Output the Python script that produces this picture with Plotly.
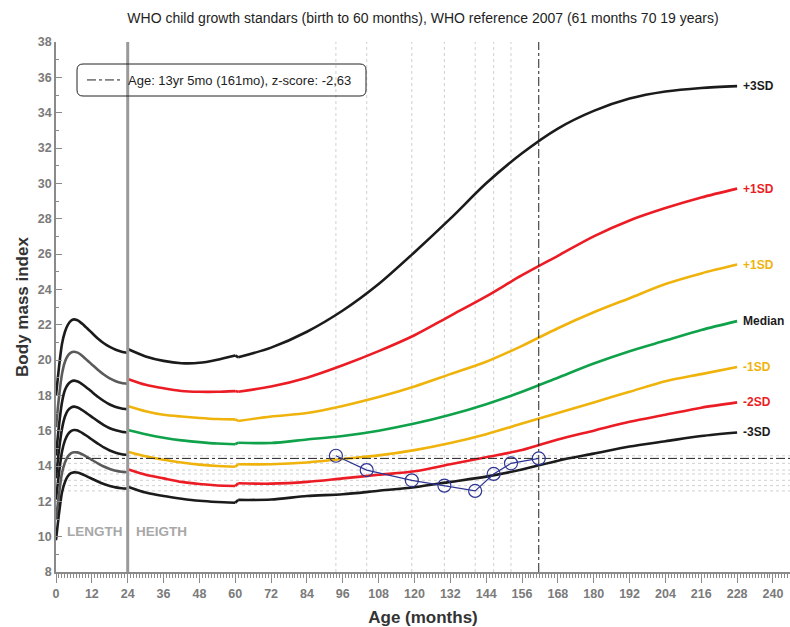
import plotly.graph_objects as go

# ---------------- data ----------------
# WHO child growth standards, 0-24 months (length based)
months_len = [0, 1, 2, 3, 4, 5, 6, 7, 8, 9, 10, 11, 12, 14, 16, 18, 20, 22, 24]
len_p3 = [18.0, 19.6, 20.9, 21.6, 22.0, 22.22, 22.3, 22.26, 22.16, 22.02, 21.86, 21.7, 21.54, 21.22, 20.95, 20.74, 20.58, 20.47, 20.4]
len_p2 = [16.2, 17.9, 19.2, 19.9, 20.25, 20.42, 20.47, 20.43, 20.34, 20.2, 20.05, 19.9, 19.75, 19.45, 19.18, 18.96, 18.8, 18.7, 18.65]
len_p1 = [14.6, 16.3, 17.6, 18.3, 18.62, 18.78, 18.83, 18.8, 18.72, 18.6, 18.47, 18.34, 18.2, 17.92, 17.68, 17.48, 17.34, 17.25, 17.2]
len_md = [13.3, 14.9, 16.1, 16.8, 17.15, 17.31, 17.36, 17.33, 17.25, 17.14, 17.02, 16.9, 16.78, 16.54, 16.32, 16.14, 16.02, 15.94, 15.9]
len_m1 = [12.1, 13.6, 14.8, 15.45, 15.8, 15.97, 16.04, 16.02, 15.95, 15.85, 15.74, 15.62, 15.5, 15.27, 15.05, 14.88, 14.75, 14.67, 14.62]
len_m2 = [11.0, 12.4, 13.6, 14.2, 14.55, 14.72, 14.78, 14.77, 14.72, 14.64, 14.55, 14.45, 14.35, 14.15, 13.97, 13.83, 13.73, 13.67, 13.65]
len_m3 = [9.8, 11.3, 12.5, 13.1, 13.43, 13.59, 13.64, 13.63, 13.59, 13.52, 13.44, 13.36, 13.28, 13.12, 12.98, 12.87, 12.79, 12.74, 12.72]

# WHO child growth standards 24-60 months (height based)
months_ht = [24, 30, 36, 42, 48, 54, 60]
ht_p3 = [20.62, 20.2, 19.95, 19.82, 19.84, 20.02, 20.26]
ht_p2 = [18.93, 18.6, 18.4, 18.25, 18.2, 18.2, 18.24]
ht_p1 = [17.4, 17.1, 16.9, 16.8, 16.72, 16.66, 16.64]
ht_md = [16.04, 15.8, 15.6, 15.45, 15.35, 15.27, 15.23]
ht_m1 = [14.81, 14.55, 14.35, 14.2, 14.08, 14.0, 13.96]
ht_m2 = [13.81, 13.5, 13.3, 13.1, 12.98, 12.9, 12.87]
ht_m3 = [12.83, 12.5, 12.3, 12.15, 12.03, 11.96, 11.92]

# WHO reference 2007, 61-228 months
months_ref = [61, 72, 84, 96, 108, 120, 132, 144, 156, 168, 180, 192, 204, 216, 228]
ref_p3 = [20.15, 20.7, 21.6, 22.8, 24.3, 26.1, 28.0, 30.0, 31.7, 33.1, 34.1, 34.8, 35.2, 35.4, 35.5]
ref_p2 = [18.2, 18.5, 19.0, 19.7, 20.5, 21.4, 22.5, 23.6, 24.8, 25.9, 27.0, 27.9, 28.6, 29.2, 29.7]
ref_p1 = [16.55, 16.8, 17.0, 17.4, 17.9, 18.5, 19.2, 19.9, 20.8, 21.8, 22.7, 23.5, 24.3, 24.9, 25.4]
ref_md = [15.32, 15.3, 15.5, 15.7, 16.0, 16.4, 16.9, 17.5, 18.2, 19.0, 19.8, 20.5, 21.1, 21.7, 22.2]
ref_m1 = [14.1, 14.1, 14.2, 14.4, 14.6, 14.9, 15.3, 15.8, 16.4, 17.0, 17.6, 18.2, 18.8, 19.2, 19.6]
ref_m2 = [13.02, 13.0, 13.1, 13.3, 13.5, 13.7, 14.1, 14.5, 14.9, 15.5, 16.0, 16.5, 16.9, 17.3, 17.6]
ref_m3 = [12.08, 12.1, 12.3, 12.4, 12.6, 12.8, 13.1, 13.4, 13.8, 14.3, 14.7, 15.1, 15.4, 15.7, 15.9]

curve_labels = ["+3SD", "+1SD", "+1SD", "Median", "-1SD", "-2SD", "-3SD"]

# patient measurements
pat_age = [93.7, 104.0, 119.1, 130.0, 140.3, 146.5, 152.3, 161.6]
pat_bmi = [14.58, 13.77, 13.19, 12.89, 12.59, 13.55, 14.15, 14.43]

legend_text = "Age: 13yr 5mo (161mo), z-score: -2,63"
title_text = "WHO child growth standars (birth to 60 months), WHO reference 2007 (61 months 70 19 years)"

x_ticks = list(range(0, 241, 12))
y_ticks = list(range(8, 39, 2))

# ---------------- style ----------------
FONT = "Liberation Sans, Arial, sans-serif"
BLACK = "#1b1b1b"
RED = "#ec1c24"
YEL = "#efb30c"
GRN = "#0fa24a"
DGRAY = "#5a5a5a"
AX = "#8a8a8a"
NAVY = "#2e3592"
LW = 2.6

X_MAX = 245.7
Y_MIN, Y_MAX = 8, 38
W, H = 790, 627
L, R, T, B = 56, 0, 42, 55
PW, PH = W - L - R, H - T - B

def px_to_paper_x(px):
    return (px - L) / PW

def px_to_paper_y(py):
    return (H - B - py) / PH

fig = go.Figure()

# patient grid lines (dotted gray)
gx, gy = [], []
for a in pat_age[:-1]:
    gx += [a, a, None]
    gy += [Y_MIN, Y_MAX, None]
fig.add_trace(go.Scatter(x=gx, y=gy, mode="lines", line=dict(color="#d0d0d0", width=1, dash="dot"),
                         showlegend=False, hoverinfo="skip"))
hx, hy = [], []
for b in pat_bmi[:-1]:
    hx += [0, X_MAX, None]
    hy += [b, b, None]
fig.add_trace(go.Scatter(x=hx, y=hy, mode="lines", line=dict(color="#d0d0d0", width=1, dash="dot"),
                         showlegend=False, hoverinfo="skip"))

# length segment curves
len_series = [len_p3, len_p2, len_p1, len_md, len_m1, len_m2, len_m3]
len_colors = [BLACK, DGRAY, BLACK, BLACK, BLACK, DGRAY, BLACK]
for ys, c in zip(len_series, len_colors):
    fig.add_trace(go.Scatter(x=months_len, y=ys, mode="lines",
                             line=dict(color=c, width=LW, shape="spline", smoothing=0.6),
                             showlegend=False, hoverinfo="skip"))

# height segment + reference segment curves
ht_series = [ht_p3, ht_p2, ht_p1, ht_md, ht_m1, ht_m2, ht_m3]
ref_series = [ref_p3, ref_p2, ref_p1, ref_md, ref_m1, ref_m2, ref_m3]
ht_colors = [BLACK, RED, YEL, GRN, YEL, RED, BLACK]
lab_colors = [BLACK, RED, YEL, BLACK, YEL, RED, BLACK]
for hs, rs, c in zip(ht_series, ref_series, ht_colors):
    fig.add_trace(go.Scatter(x=months_ht, y=hs, mode="lines",
                             line=dict(color=c, width=LW, shape="spline", smoothing=0.6),
                             showlegend=False, hoverinfo="skip"))
    fig.add_trace(go.Scatter(x=[months_ht[-1], months_ref[0]], y=[hs[-1], rs[0]], mode="lines",
                             line=dict(color=c, width=LW),
                             showlegend=False, hoverinfo="skip"))
    fig.add_trace(go.Scatter(x=months_ref, y=rs, mode="lines",
                             line=dict(color=c, width=LW, shape="spline", smoothing=0.8),
                             showlegend=False, hoverinfo="skip"))

for rs, lab, c in zip(ref_series, curve_labels, lab_colors):
    fig.add_annotation(x=months_ref[-1], y=rs[-1], text=lab, showarrow=False,
                       xanchor="left", xshift=4, yshift=0,
                       font=dict(family=FONT, size=12, color=c, weight="bold"))

# current age cross-hair (dash-dot), shown in legend
ca, cb = pat_age[-1], pat_bmi[-1]
fig.add_trace(go.Scatter(x=[0, X_MAX, None, ca, ca], y=[cb, cb, None, Y_MIN, Y_MAX], mode="lines",
                         line=dict(color="#222222", width=1, dash="dashdot"),
                         name=legend_text, showlegend=True, hoverinfo="skip"))

# patient line
fig.add_trace(go.Scatter(x=pat_age, y=pat_bmi, mode="lines+markers",
                         line=dict(color=NAVY, width=1.2),
                         marker=dict(symbol="circle-open", size=13, color=NAVY, line=dict(width=1.2)),
                         showlegend=False, hoverinfo="skip"))

# separator between length and height
fig.add_shape(type="line", x0=24, x1=24, y0=Y_MIN, y1=Y_MAX, xref="x", yref="y",
              line=dict(color="#9a9a9a", width=3), layer="above")

fig.add_annotation(x=3, y=10.3, text="LENGTH", showarrow=False, xanchor="left",
                   font=dict(family=FONT, size=13.5, color="#a8a8a8", weight="bold"))
fig.add_annotation(x=26.1, y=10.3, text="HEIGTH", showarrow=False, xanchor="left",
                   font=dict(family=FONT, size=13.5, color="#a8a8a8", weight="bold"))

# rounded legend box
x0p, x1p = px_to_paper_x(77), px_to_paper_x(366)
y0p, y1p = px_to_paper_y(96), px_to_paper_y(64)
r = 6
rx, ry = r / PW, r / PH
path = (f"M {x0p+rx},{y1p} L {x1p-rx},{y1p} Q {x1p},{y1p} {x1p},{y1p-ry} "
        f"L {x1p},{y0p+ry} Q {x1p},{y0p} {x1p-rx},{y0p} L {x0p+rx},{y0p} "
        f"Q {x0p},{y0p} {x0p},{y0p+ry} L {x0p},{y1p-ry} Q {x0p},{y1p} {x0p+rx},{y1p} Z")
fig.add_shape(type="path", path=path, xref="paper", yref="paper",
              line=dict(color="#222222", width=1), fillcolor="rgba(255,255,255,0)", layer="above")

fig.update_layout(
    width=W, height=H,
    margin=dict(l=L, r=R, t=T, b=B, autoexpand=False),
    paper_bgcolor="white", plot_bgcolor="white",
    font=dict(family=FONT, color="#222222"),
    title=dict(text=title_text, x=(L + PW / 2) / W, xanchor="center", y=1 - 18 / H, yanchor="middle",
               font=dict(family=FONT, size=14, color="#1e1e1e")),
    showlegend=True,
    legend=dict(x=px_to_paper_x(82), y=px_to_paper_y(80), xanchor="left", yanchor="middle",
                bgcolor="rgba(0,0,0,0)", borderwidth=0, itemwidth=36,
                font=dict(family=FONT, size=13, color="#1e1e1e")),
    xaxis=dict(range=[0, X_MAX], tickvals=x_ticks, ticks="outside", ticklen=9, tickwidth=1.2,
               tickcolor=AX, showline=True, linecolor=AX, linewidth=1.5, showgrid=False, zeroline=False,
               automargin=False,
               minor=dict(dtick=1, tick0=0, ticks="outside", ticklen=4, tickwidth=1, tickcolor=AX, showgrid=False),
               tickfont=dict(family=FONT, size=12.5, color="#7a7a7a", weight="bold"),
               title=dict(text="Age (months)", standoff=12,
                          font=dict(family=FONT, size=17, color="#333333", weight="bold"))),
    xaxis2=dict(range=[0, X_MAX], overlaying="x", side="top", tickvals=x_ticks, ticks="inside",
                ticklen=9, tickwidth=1.2, tickcolor=AX, showline=True, linecolor=AX, linewidth=1.5,
                showgrid=False, zeroline=False, showticklabels=False, automargin=False,
                minor=dict(dtick=1, tick0=0, ticks="inside", ticklen=4, tickwidth=1, tickcolor=AX, showgrid=False)),
    yaxis=dict(range=[Y_MIN, Y_MAX], tickvals=y_ticks, ticks="inside", ticklen=6, tickwidth=1.2,
               tickcolor=AX, showline=True, linecolor=AX, linewidth=1.5, showgrid=False, zeroline=False,
               automargin=False,
               minor=dict(dtick=1, tick0=0, ticks="inside", ticklen=3, tickwidth=1, tickcolor=AX, showgrid=False),
               tickfont=dict(family=FONT, size=12.5, color="#7a7a7a", weight="bold"),
               title=dict(text="Body mass index", standoff=5,
                          font=dict(family=FONT, size=17, color="#333333", weight="bold"))),
)

# remove the browser's default page margin so the 790x627 figure fills the window exactly
fig.write_html("out.html",
               config={"displayModeBar": False},
               post_script="document.body.style.margin='0';document.body.style.overflow='hidden';")
